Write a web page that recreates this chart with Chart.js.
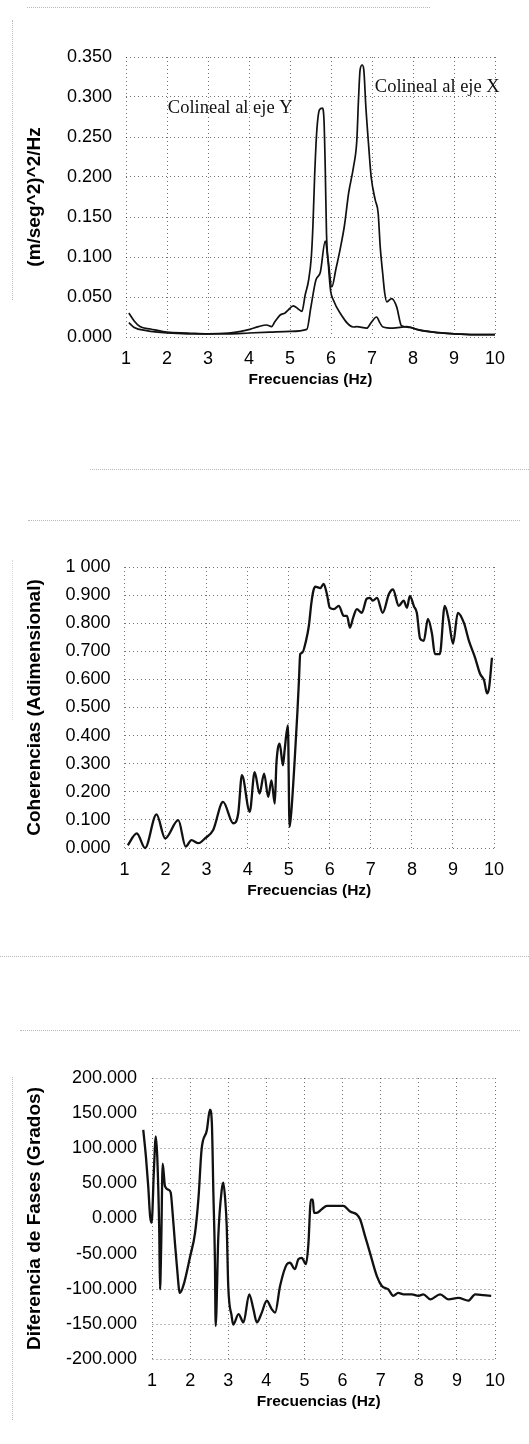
<!DOCTYPE html>
<html><head><meta charset="utf-8">
<script src="https://cdn.jsdelivr.net/npm/chart.js@4.4.1/dist/chart.umd.min.js"></script>
<style>
html,body{margin:0;padding:0;background:#fff;}
body{width:529px;height:1444px;position:relative;overflow:hidden;}
.box{position:absolute;left:0;width:529px;}
.box canvas{display:block;}
.hl{position:absolute;height:0;border-top:1px dotted #b8b8b8;}
.vl{position:absolute;width:0;border-left:1px dotted #b8b8b8;}
</style></head><body>
<div class="hl" style="top:7px;left:27px;width:403px"></div>
<div class="vl" style="left:12px;top:20px;height:280px"></div>
<div class="hl" style="top:469px;left:90px;width:439px"></div>
<div class="hl" style="top:520px;left:28px;width:492px"></div>
<div class="vl" style="left:12px;top:560px;height:160px;border-left-color:#d8d8d8"></div>
<div class="hl" style="top:956px;left:0px;width:529px"></div>
<div class="hl" style="top:1030px;left:20px;width:500px"></div>
<div class="vl" style="left:12px;top:1077px;height:343px"></div>
<div class="box" style="top:0;height:470px"><canvas id="c1" width="529" height="470"></canvas></div>
<div class="box" style="top:470px;height:485px"><canvas id="c2" width="529" height="485"></canvas></div>
<div class="box" style="top:955px;height:489px"><canvas id="c3" width="529" height="489"></canvas></div>
<script>
// ---- Data ----
const xTickValues = [1,2,3,4,5,6,7,8,9,10];
const xTickLabels = ['1','2','3','4','5','6','7','8','9','10'];

// Chart 1: spectral density
const freqEjeY = [1.07,1.20,1.34,1.60,2.00,2.50,3.00,3.50,3.80,4.02,4.23,4.43,4.55,4.63,4.76,4.88,4.96,5.08,5.20,5.29,5.37,5.45,5.52,5.56,5.60,5.65,5.72,5.79,5.83,5.86,5.89,5.94,5.99,6.06,6.22,6.54,6.63,6.87,6.98,7.11,7.20,7.27,7.51,7.85,8.09,8.50,9.00,9.50,10.00];
const psdEjeY = [0.030,0.020,0.013,0.010,0.006,0.005,0.004,0.005,0.007,0.0095,0.013,0.015,0.013,0.019,0.0275,0.030,0.034,0.039,0.035,0.032,0.0525,0.070,0.100,0.140,0.200,0.255,0.284,0.286,0.270,0.210,0.130,0.088,0.058,0.046,0.030,0.0125,0.013,0.011,0.018,0.025,0.017,0.0125,0.011,0.013,0.0095,0.006,0.004,0.003,0.003];
const freqEjeX = [1.07,1.20,1.50,2.00,2.50,3.00,3.50,4.00,4.50,5.00,5.41,5.51,5.63,5.74,5.86,5.93,6.02,6.12,6.22,6.33,6.43,6.55,6.63,6.67,6.71,6.76,6.80,6.85,6.92,6.98,7.08,7.15,7.20,7.26,7.31,7.36,7.48,7.60,7.72,7.93,8.13,8.50,9.00,9.50,10.00];
const psdEjeX = [0.018,0.012,0.008,0.005,0.004,0.004,0.004,0.005,0.006,0.007,0.0095,0.0375,0.071,0.081,0.120,0.096,0.0625,0.085,0.109,0.140,0.180,0.213,0.246,0.296,0.334,0.340,0.334,0.288,0.238,0.200,0.171,0.155,0.113,0.080,0.055,0.044,0.048,0.038,0.014,0.012,0.009,0.006,0.004,0.003,0.003];
const yTicks1 = [0,0.05,0.10,0.15,0.20,0.25,0.30,0.35];
const yLabels1 = ['0.000','0.050','0.100','0.150','0.200','0.250','0.300','0.350'];
const annTexts = ['Colineal al eje Y','Colineal al eje X'];
const annFreq = [2.02,7.07];
const annValue = [0.286,0.3125];

// Chart 2: coherence
const freqCoh = [1.08,1.30,1.50,1.78,1.99,2.31,2.49,2.63,2.80,2.96,3.16,3.40,3.65,3.77,3.86,4.05,4.17,4.29,4.40,4.50,4.58,4.66,4.70,4.78,4.86,4.90,4.98,5.02,5.06,5.14,5.21,5.25,5.28,5.33,5.42,5.49,5.55,5.60,5.65,5.77,5.85,5.93,6.00,6.10,6.22,6.34,6.42,6.49,6.57,6.66,6.78,6.90,6.98,7.05,7.15,7.29,7.44,7.54,7.68,7.80,7.88,7.95,8.05,8.12,8.20,8.29,8.39,8.49,8.56,8.68,8.80,8.90,9.00,9.12,9.27,9.39,9.54,9.66,9.76,9.83,9.88,9.95];
const coherence = [0.01,0.052,0.0,0.12,0.034,0.099,0.005,0.028,0.017,0.034,0.064,0.164,0.088,0.123,0.259,0.129,0.27,0.194,0.265,0.182,0.241,0.158,0.30,0.371,0.294,0.348,0.436,0.075,0.123,0.30,0.48,0.60,0.69,0.695,0.737,0.79,0.87,0.915,0.93,0.925,0.94,0.904,0.855,0.85,0.862,0.826,0.826,0.784,0.82,0.85,0.837,0.887,0.89,0.88,0.89,0.837,0.904,0.92,0.862,0.88,0.855,0.897,0.86,0.837,0.745,0.737,0.815,0.762,0.69,0.69,0.862,0.81,0.727,0.837,0.80,0.737,0.677,0.62,0.596,0.55,0.57,0.677];
const yTicks2 = [0,0.1,0.2,0.3,0.4,0.5,0.6,0.7,0.8,0.9,1.0];
const yLabels2 = ['0.000','0.100','0.200','0.300','0.400','0.500','0.600','0.700','0.800','0.900','1 000'];

// Chart 3: phase difference
const freqPhase = [0.77,0.84,0.90,0.95,0.99,1.05,1.10,1.14,1.19,1.21,1.24,1.28,1.34,1.43,1.49,1.54,1.60,1.65,1.73,1.82,2.00,2.13,2.22,2.30,2.44,2.52,2.57,2.61,2.65,2.67,2.74,2.83,2.87,2.92,2.96,3.00,3.09,3.13,3.27,3.40,3.55,3.66,3.75,3.88,4.01,4.14,4.23,4.36,4.54,4.62,4.75,4.84,4.93,5.04,5.10,5.17,5.22,5.25,5.32,5.45,5.59,6.02,6.20,6.37,6.46,6.59,6.72,6.90,7.03,7.20,7.33,7.46,7.60,7.82,7.99,8.12,8.30,8.56,8.78,9.04,9.30,9.48,9.70,9.90];
const phaseDeg = [126,88,46,3,-6,70,117,84,-20,-101,-40,78,46,41,37,8,-34,-66,-106,-96,-54,-20,30,98,126,155,136,36,-58,-153,-25,41,51,27,-11,-96,-139,-151,-136,-148,-108,-129,-148,-134,-117,-129,-134,-96,-65,-63,-72,-58,-56,-65,-39,27,27,8,8,13,18,18,10,6,-1,-25,-49,-82,-96,-101,-110,-106,-108,-108,-110,-108,-115,-108,-115,-113,-117,-108,-109,-110];
const yTicks3 = [-200,-150,-100,-50,0,50,100,150,200];
const yLabels3 = ['-200.000','-150.000','-100.000','-50.000','0.000','50.000','100.000','150.000','200.000'];

// ---- Helpers ----
const FONT = '"Liberation Sans", Arial, sans-serif';
const GRID = 'rgba(0,0,0,0.55)';
function pts(xs, ys){ return xs.map((x,i)=>({x:x, y:ys[i]})); }

function makeOptions(cfg){
  return {
    responsive:false, animation:false, devicePixelRatio:1,
    layout:{padding:cfg.pad},
    plugins:{legend:{display:false}, tooltip:{enabled:false}},
    scales:{
      x:{type:'linear', min:cfg.xmin, max:10,
        afterBuildTicks:(s)=>{ s.ticks = xTickValues.map(v=>({value:v})); },
        afterFit:(s)=>{ s.height = 60; },
        grid:{color:GRID, lineWidth:1, drawTicks:false, borderDash:[1,3]},
        border:{display:false, dash:[1,3]},
        ticks:{padding:11, color:'#000', font:{family:FONT, size:18}, maxRotation:0,
          callback:(v,i)=>xTickLabels[i]},
        title:{display:true, text:'Frecuencias (Hz)', color:'#000',
          font:{family:FONT, size:15.5, weight:'bold'}, padding:{top:0,bottom:7.5}}
      },
      y:{type:'linear', min:cfg.ymin, max:cfg.ymax,
        afterBuildTicks:(s)=>{ s.ticks = cfg.yTicks.map(v=>({value:v})); },
        afterFit:(s)=>{ s.width = cfg.yWidth; },
        grid:{display:cfg.yGrid, color:GRID, lineWidth:1, drawTicks:false, borderDash:[1,3]},
        border:{display:false, dash:[1,3]},
        ticks:{padding:cfg.yPad, color:'#000', font:{family:FONT, size:18},
          callback:(v,i)=>cfg.yLabels[i]},
        title:{display:true, text:cfg.yTitle, color:'#000',
          font:{family:FONT, size:19, weight:'bold'}, padding:{top:23.5,bottom:0}}
      }
    }
  };
}
function lineDs(data, w){
  return {data:data, borderColor:'#111', borderWidth:w, pointRadius:0,
    fill:false, cubicInterpolationMode:'monotone', clip:false};
}

// annotation text plugin (chart 1)
const annotPlugin = {
  id:'annot',
  afterDatasetsDraw(chart){
    const {ctx, scales:{x, y}} = chart;
    ctx.save();
    ctx.fillStyle = '#111';
    ctx.font = '18.5px "Liberation Serif", "Times New Roman", serif';
    ctx.textAlign = 'left'; ctx.textBaseline = 'middle';
    annTexts.forEach((t,i)=>{ ctx.fillText(t, x.getPixelForValue(annFreq[i]), y.getPixelForValue(annValue[i])); });
    ctx.restore();
  }
};
// horizontal grid for chart 3 starting at x=1
const hGridPlugin = {
  id:'hgrid',
  beforeDatasetsDraw(chart){
    const {ctx, chartArea, scales:{x, y}} = chart;
    ctx.save();
    ctx.strokeStyle = GRID; ctx.lineWidth = 1; ctx.setLineDash([1,3]);
    const x0 = Math.round(x.getPixelForValue(1)) + 0.5;
    y.ticks.forEach(t=>{
      const py = Math.round(y.getPixelForValue(t.value)) + 0.5;
      ctx.beginPath(); ctx.moveTo(x0, py); ctx.lineTo(chartArea.right, py); ctx.stroke();
    });
    ctx.restore();
  }
};

new Chart(document.getElementById('c1'), {
  type:'line',
  data:{datasets:[lineDs(pts(freqEjeY, psdEjeY),1.7), lineDs(pts(freqEjeX, psdEjeX),1.7)]},
  options:makeOptions({pad:{top:57,right:34,bottom:73,left:0}, xmin:1, ymin:0, ymax:0.35,
    yTicks:yTicks1, yLabels:yLabels1, yWidth:126, yPad:14, yGrid:true, yTitle:'(m/seg^2)^2/Hz'}),
  plugins:[annotPlugin]
});

new Chart(document.getElementById('c2'), {
  type:'line',
  data:{datasets:[lineDs(pts(freqCoh, coherence),2.3)]},
  options:makeOptions({pad:{top:97,right:35,bottom:47,left:0}, xmin:1, ymin:0, ymax:1,
    yTicks:yTicks2, yLabels:yLabels2, yWidth:124.5, yPad:14, yGrid:true, yTitle:'Coherencias (Adimensional)'})
});

new Chart(document.getElementById('c3'), {
  type:'line',
  data:{datasets:[lineDs(pts(freqPhase, phaseDeg),2.3)]},
  options:makeOptions({pad:{top:123,right:34,bottom:25,left:0}, xmin:0.75, ymin:-200, ymax:200,
    yTicks:yTicks3, yLabels:yLabels3, yWidth:142.5, yPad:5.5, yGrid:false, yTitle:'Diferencia de Fases (Grados)'}),
  plugins:[hGridPlugin]
});
</script>
</body></html>
